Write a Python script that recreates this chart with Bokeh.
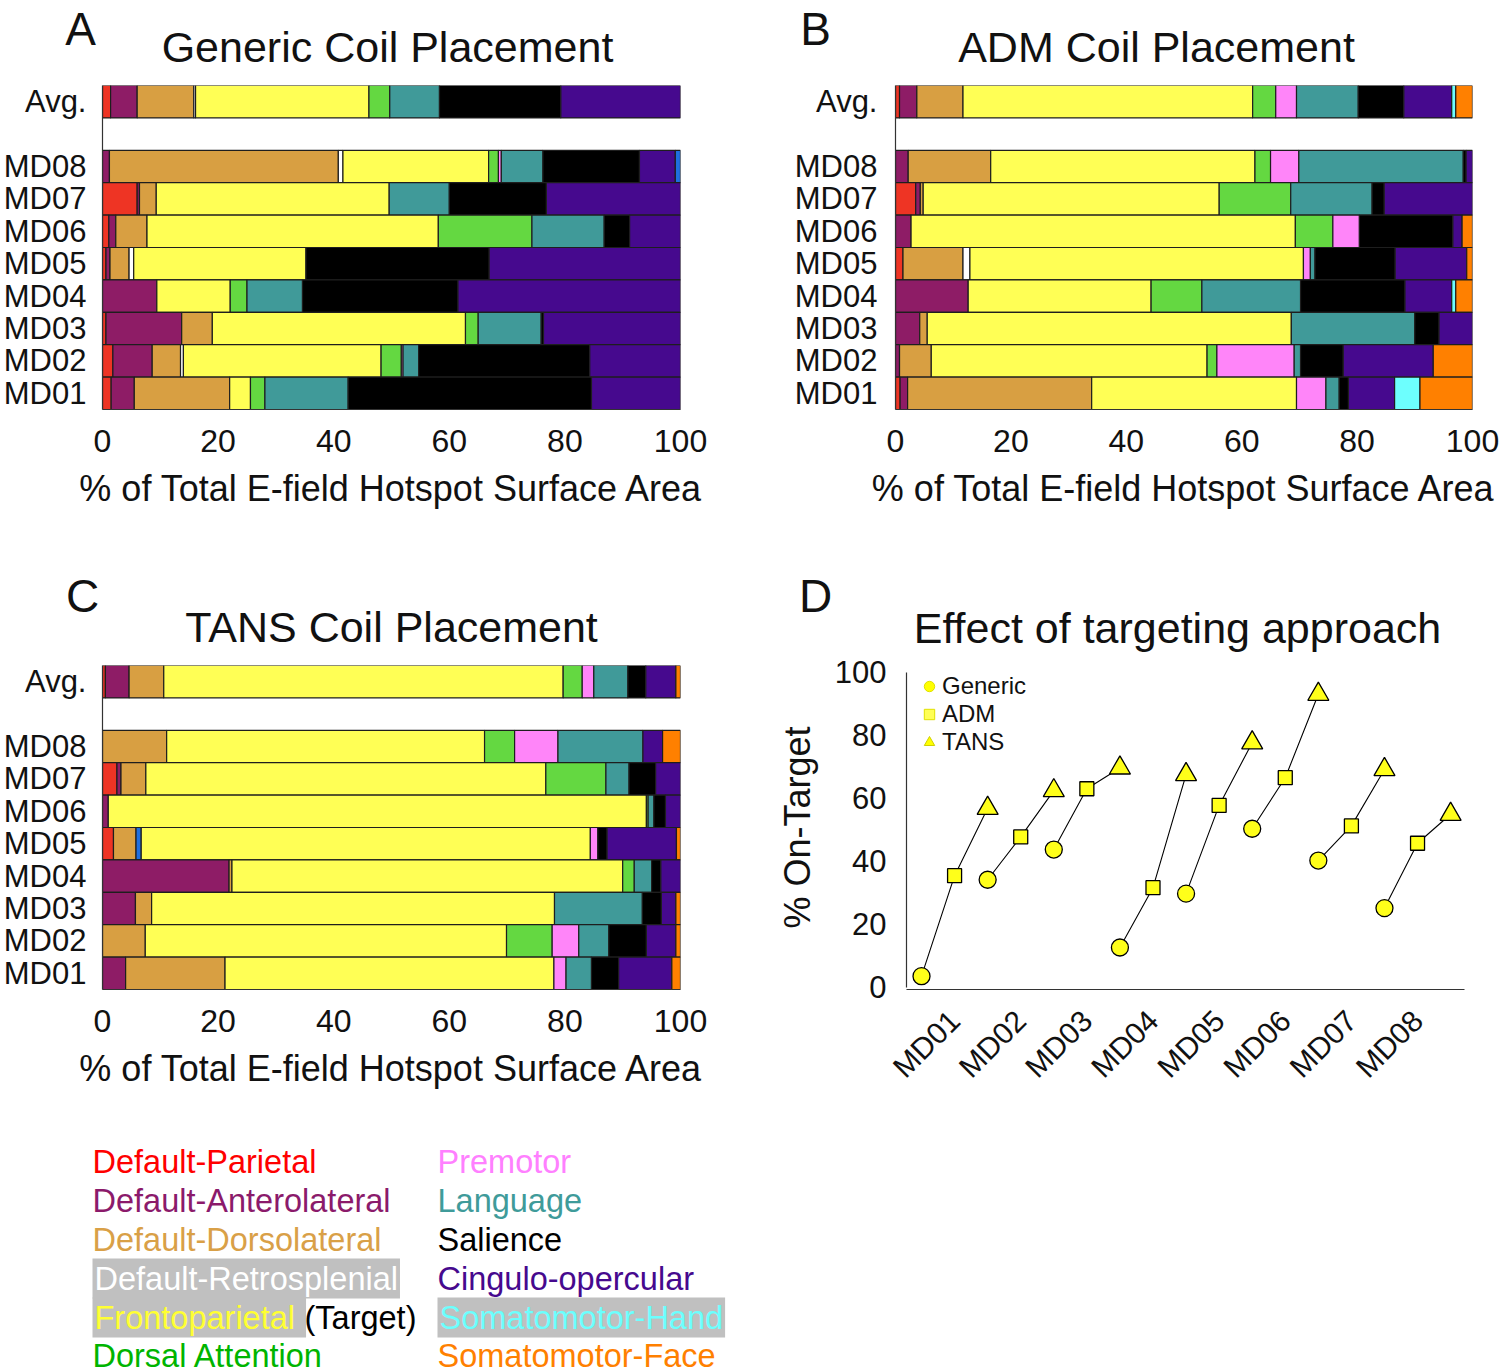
import numpy as np
from bokeh.plotting import figure
from bokeh.models import Range1d, FixedTicker, Label, ColumnDataSource, Legend, LegendItem
from bokeh.layouts import column, row
from bokeh.embed import file_html
from bokeh.resources import INLINE

FONT = "Liberation Sans"
INK = "#111111"

# ---------------- data ----------------
NETWORKS = ["Default-Parietal", "Default-Anterolateral", "Default-Dorsolateral",
            "Default-Retrosplenial", "Other (a)", "Frontoparietal", "Dorsal Attention",
            "Premotor", "Language", "Salience", "Cingulo-opercular",
            "Somatomotor-Hand", "Somatomotor-Face", "Other (b)"]
NET_COLORS = ["#ee3424", "#8e1c66", "#d89f42", "#ffffff", "#1f6fe0", "#ffff55",
              "#64d841", "#ff85f9", "#409a99", "#000000", "#46098e", "#6dfffe",
              "#ff8000", "#1f6fe0"]

ROWS = ["Avg.", "MD08", "MD07", "MD06", "MD05", "MD04", "MD03", "MD02", "MD01"]
ROW_POS = [10, 8, 7, 6, 5, 4, 3, 2, 1]

# % of hotspot area per network (order of NETWORKS)
GENERIC = {
    "Avg.": [1.4, 4.6, 9.8, 0.3, 0, 30.0, 3.6, 0, 8.6, 21.0, 20.7, 0, 0, 0],
    "MD08": [0, 1.2, 39.6, 0.8, 0, 25.2, 1.7, 0.5, 7.2, 16.7, 6.2, 0, 0, 0.9],
    "MD07": [6.0, 0.4, 2.9, 0, 0, 40.3, 0, 0, 10.4, 16.8, 23.2, 0, 0, 0],
    "MD06": [1.1, 1.2, 5.4, 0, 0, 50.4, 16.2, 0, 12.5, 4.4, 8.8, 0, 0, 0],
    "MD05": [0.6, 0.7, 3.3, 0.8, 0, 29.8, 0, 0, 0, 31.7, 33.1, 0, 0, 0],
    "MD04": [0, 9.4, 0, 0, 0, 12.7, 2.9, 0, 9.6, 26.9, 38.5, 0, 0, 0],
    "MD03": [0.6, 13.1, 5.3, 0, 0, 43.8, 2.2, 0, 10.9, 0.4, 23.7, 0, 0, 0],
    "MD02": [1.8, 6.8, 4.9, 0.5, 0, 34.2, 3.5, 0.3, 2.7, 29.6, 15.7, 0, 0, 0],
    "MD01": [1.5, 4.0, 16.5, 0, 0, 3.6, 2.5, 0, 14.4, 42.1, 15.4, 0, 0, 0],
}
ADM = {
    "Avg.": [0.7, 3.0, 8.0, 0, 0, 50.2, 4.0, 3.6, 10.7, 7.9, 8.3, 0.7, 2.9, 0],
    "MD08": [0, 2.2, 14.3, 0, 0, 45.8, 2.7, 4.9, 28.5, 0.5, 1.1, 0, 0, 0],
    "MD07": [3.5, 0.8, 0.5, 0, 0, 51.3, 12.4, 0, 14.1, 2.1, 15.3, 0, 0, 0],
    "MD06": [0, 2.7, 0, 0, 0, 66.6, 6.5, 4.6, 0, 16.2, 1.6, 0, 1.8, 0],
    "MD05": [1.3, 0, 10.4, 1.2, 0, 57.8, 0, 1.2, 0.8, 13.9, 12.4, 0, 1.0, 0],
    "MD04": [0, 12.6, 0, 0, 0, 31.7, 8.8, 0, 17.1, 18.1, 8.1, 0.7, 2.9, 0],
    "MD03": [0, 4.2, 1.3, 0, 0, 63.1, 0, 0, 21.4, 4.2, 5.8, 0, 0, 0],
    "MD02": [0, 0.7, 5.5, 0, 0, 47.8, 1.7, 13.4, 1.1, 7.4, 15.6, 0, 6.8, 0],
    "MD01": [0.8, 1.3, 31.9, 0, 0, 35.5, 0, 5.1, 2.3, 1.6, 8.0, 4.4, 9.1, 0],
}
TANS = {
    "Avg.": [0.5, 4.1, 6.0, 0, 0, 69.1, 3.3, 2.0, 5.9, 3.1, 5.2, 0, 0.8, 0],
    "MD08": [0, 0, 11.1, 0, 0, 55.0, 5.2, 7.5, 14.7, 0, 3.4, 0, 3.1, 0],
    "MD07": [2.5, 0.7, 4.3, 0, 0, 69.2, 10.4, 0, 4.0, 4.6, 4.3, 0, 0, 0],
    "MD06": [0, 1.0, 0, 0, 0, 93.1, 0.3, 0, 1.0, 2.0, 2.6, 0, 0, 0],
    "MD05": [1.9, 0, 3.9, 0, 0.9, 77.7, 0, 1.3, 0, 1.6, 12.0, 0, 0.7, 0],
    "MD04": [0, 21.9, 0.5, 0, 0, 67.6, 2.0, 0, 3.0, 1.6, 3.4, 0, 0, 0],
    "MD03": [0, 5.7, 2.8, 0, 0, 69.7, 0, 0, 15.2, 3.3, 2.5, 0, 0.8, 0],
    "MD02": [0, 0, 7.4, 0, 0, 62.5, 7.9, 4.6, 5.2, 6.5, 5.1, 0, 0.8, 0],
    "MD01": [0, 4.0, 17.2, 0, 0, 56.9, 0, 2.1, 4.4, 4.7, 9.2, 0, 1.5, 0],
}

X_TICKS = [0, 20, 40, 60, 80, 100]

SUBJECTS = ["MD01", "MD02", "MD03", "MD04", "MD05", "MD06", "MD07", "MD08"]
ON_GENERIC = [3.6, 34.2, 43.8, 12.7, 29.8, 50.4, 40.3, 25.2]
ON_ADM = [35.5, 47.8, 63.1, 31.7, 57.8, 66.6, 51.3, 45.8]
ON_TANS = [56.9, 62.5, 69.7, 67.6, 77.7, 93.1, 69.2, 55.0]
D_Y_TICKS = [0, 20, 40, 60, 80, 100]

LEGEND_LEFT = ["Default-Parietal", "Default-Anterolateral", "Default-Dorsolateral",
               "Default-Retrosplenial", "Frontoparietal", "Dorsal Attention"]
LEGEND_LEFT_COLORS = ["#ff0000", "#8b1a6b", "#d9a047", "#ffffff", "#ffff33", "#00b400"]
LEGEND_RIGHT = ["Premotor", "Language", "Salience", "Cingulo-opercular",
                "Somatomotor-Hand", "Somatomotor-Face"]
LEGEND_RIGHT_COLORS = ["#ff80ff", "#3f9b9a", "#000000", "#46098e", "#6cfffe", "#ff8000"]
SHADED = {"Default-Retrosplenial", "Frontoparietal", "Somatomotor-Hand"}


def text_fig(width, height):
    f = figure(width=width, height=height, x_range=Range1d(0, width),
               y_range=Range1d(height, 0), min_border=0,
               x_axis_type=None, y_axis_type=None,
               output_backend="svg", toolbar_location=None)
    f.outline_line_color = None
    return f


def add_text(f, x, y, text, size, color=INK, align="center", **kw):
    f.add_layout(Label(x=x, y=y, text=text, text_align=align, text_baseline="middle",
                       text_font=FONT, text_font_size=size, text_color=color, **kw))


def style_axes(p):
    p.outline_line_color = None
    p.xgrid.visible = False
    p.ygrid.visible = False
    for ax in (p.xaxis, p.yaxis):
        ax.axis_line_color = "#333333"
        ax.axis_line_width = 1.2
        ax.major_tick_line_color = None
        ax.minor_tick_line_color = None
        ax.major_label_text_font = FONT
        ax.major_label_text_color = INK
        ax.axis_label_text_font = FONT
        ax.axis_label_text_color = INK
        ax.axis_label_text_font_style = "normal"


def bar_panel(data, bl, br, bt, bb, ystand, fw):
    p = figure(frame_width=fw, frame_height=324,
               min_border_left=bl, min_border_right=br,
               min_border_top=bt, min_border_bottom=bb,
               x_range=Range1d(0, 100), y_range=Range1d(0.5, 10.5),
               output_backend="svg", toolbar_location=None)
    ys, lefts, rights, colors = [], [], [], []
    for name, pos in zip(ROWS, ROW_POS):
        vals = np.asarray(data[name], dtype=float)
        edges = np.concatenate([[0.0], np.cumsum(vals)])
        for k, v in enumerate(vals):
            if v > 0:
                ys.append(pos)
                lefts.append(edges[k])
                rights.append(edges[k + 1])
                colors.append(NET_COLORS[k])
    src = ColumnDataSource(dict(y=ys, left=lefts, right=rights, color=colors))
    p.hbar(y="y", left="left", right="right", height=1.0, fill_color="color",
           line_color="#1e1e1e", line_width=1.2, source=src)
    style_axes(p)
    p.xaxis.ticker = FixedTicker(ticks=X_TICKS)
    p.yaxis.ticker = FixedTicker(ticks=ROW_POS)
    p.yaxis.major_label_overrides = {pos: name for name, pos in zip(ROWS, ROW_POS)}
    p.xaxis.major_label_text_font_size = "32px"
    p.yaxis.major_label_text_font_size = "31px"
    p.xaxis.major_label_standoff = 14
    p.yaxis.major_label_standoff = ystand
    p.xaxis.axis_label = "% of Total E-field Hotspot Surface Area"
    p.xaxis.axis_label_text_font_size = "36px"
    p.xaxis.axis_label_standoff = 13
    return p


# ---------------- row 1 ----------------
tA = text_fig(770, 80)
add_text(tA, 80, 28, "A", "46px")
add_text(tA, 387, 46, "Generic Coil Placement", "43px")
tB = text_fig(730, 80)
add_text(tB, 45, 28, "B", "46px")
add_text(tB, 386, 46, "ADM Coil Placement", "43px")

pa = bar_panel(GENERIC, 100, 92, 5, 124, 10, 578)
pb = bar_panel(ADM, 123, 30, 5, 124, 12, 577)

# ---------------- row 2 ----------------
tC = text_fig(770, 119)
add_text(tC, 82, 62, "C", "46px")
add_text(tC, 391, 93, "TANS Coil Placement", "43px")
tD = text_fig(730, 119)
add_text(tD, 45, 62, "D", "46px")
add_text(tD, 407, 94, "Effect of targeting approach", "43px")

pc = bar_panel(TANS, 100, 92, 13, 129, 10, 578)

# frame spans the same pixel rows as panel C; the value axis stops at 0..100
pd_ = figure(frame_width=558, frame_height=324,
             min_border_left=134, min_border_right=38,
             min_border_top=13, min_border_bottom=129,
             x_range=Range1d(-0.454, 16.42), y_range=Range1d(-0.635, 102.22),
             output_backend="svg", toolbar_location=None)
x_gen = [2 * i for i in range(len(SUBJECTS))]
x_adm = [2 * i + 1 for i in range(len(SUBJECTS))]
x_tans = [2 * i + 2 for i in range(len(SUBJECTS))]
pd_.multi_line(xs=[[a, b, c] for a, b, c in zip(x_gen, x_adm, x_tans)],
               ys=[[a, b, c] for a, b, c in zip(ON_GENERIC, ON_ADM, ON_TANS)],
               line_color="black", line_width=1.1)
pd_.scatter(x=x_gen, y=ON_GENERIC, marker="circle", size=17, fill_color="#ffff1a",
            line_color="black", line_width=1.3)
pd_.scatter(x=x_adm, y=ON_ADM, marker="square", size=14, fill_color="#ffff1a",
            line_color="black", line_width=1.3)
pd_.scatter(x=x_tans, y=ON_TANS, marker="triangle", size=21, fill_color="#ffff1a",
            line_color="black", line_width=1.3)
# legend swatches (hidden copies drawn only in the legend)
lg_c = pd_.scatter(x=x_gen, y=ON_GENERIC, marker="circle", fill_color="#ffff00",
                   line_color="#e0e000", visible=False)
lg_s = pd_.scatter(x=x_adm, y=ON_ADM, marker="square", fill_color="#ffff55",
                   line_color="#e0e000", visible=False)
lg_t = pd_.scatter(x=x_tans, y=ON_TANS, marker="triangle", fill_color="#ffff00",
                   line_color="#d0d000", visible=False)
legend = Legend(items=[LegendItem(label="Generic", renderers=[lg_c]),
                       LegendItem(label="ADM", renderers=[lg_s]),
                       LegendItem(label="TANS", renderers=[lg_t])],
                location=(10, 233), margin=0, padding=0, spacing=0,
                glyph_width=26, glyph_height=26, label_standoff=0,
                label_text_font=FONT, label_text_font_size="24px",
                label_text_color=INK, background_fill_alpha=0,
                border_line_color=None, inactive_fill_alpha=0)
pd_.add_layout(legend)
style_axes(pd_)
pd_.yaxis.bounds = (0, 100)
pd_.yaxis.ticker = FixedTicker(ticks=D_Y_TICKS)
pd_.xaxis.ticker = FixedTicker(ticks=x_adm)
pd_.xaxis.major_label_overrides = {x: s for x, s in zip(x_adm, SUBJECTS)}
pd_.xaxis.major_label_orientation = np.pi / 4
pd_.xaxis.major_label_text_font_size = "30px"
pd_.yaxis.major_label_text_font_size = "31px"
pd_.yaxis.major_label_standoff = 14
pd_.xaxis.major_label_standoff = 20
pd_.yaxis.axis_label = "% On-Target"
pd_.yaxis.axis_label_text_font_size = "36px"
pd_.yaxis.axis_label_standoff = 14

# ---------------- network legend ----------------
pl = text_fig(1500, 254)
ROW_Y = [43, 82, 121, 160, 199, 237]
for col_x, names, cols in ((92, LEGEND_LEFT, LEGEND_LEFT_COLORS),
                           (437, LEGEND_RIGHT, LEGEND_RIGHT_COLORS)):
    for yy, name, c in zip(ROW_Y, names, cols):
        kw = {}
        label_text = name
        if name in SHADED:
            kw = dict(background_fill_color="#c0c0c0", padding=2)
            if name == "Frontoparietal":
                label_text = name + "\u00a0"
        add_text(pl, col_x, yy, label_text, "32.5px", color=c, align="left", **kw)
add_text(pl, 304, ROW_Y[4], "(Target)", "32.5px", color="#000000", align="left")

layout = column(row(tA, tB), row(pa, pb), row(tC, tD), row(pc, pd_), pl)
open("out.html", "w").write(file_html(layout, INLINE))
